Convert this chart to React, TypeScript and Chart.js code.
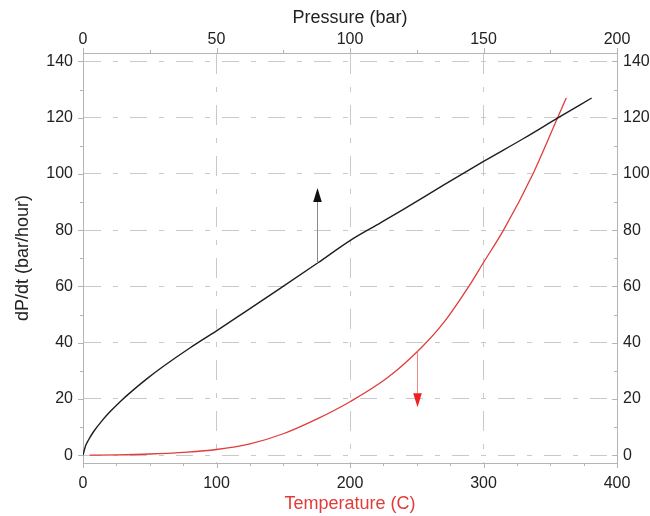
import { useEffect, useRef } from 'react';
import { Chart, registerables } from 'chart.js';

Chart.register(...registerables);

// ---- data ----
const pressure = [0, 1, 2, 4, 7, 10, 14, 18, 24, 30, 40, 50, 60, 74, 88, 100, 111.4, 120, 135, 150.5, 165, 178, 190.5];
const pressureRate = [0, 3.4, 5.3, 8.4, 12.1, 15.3, 19.1, 22.5, 27.2, 31.5, 38.1, 44.2, 50.5, 59.4, 68.4, 76.3, 82.6, 87.4, 96, 104.7, 112.6, 120, 127];

const temperature = [5, 25, 50, 75, 100, 125, 150, 175, 200, 228, 253, 270, 289, 300, 315, 337, 355.5, 362];
const temperatureRate = [0, 0.1, 0.4, 1, 2, 4, 7.6, 12.8, 19, 27.5, 38, 47, 60, 68.5, 80, 100, 120, 127];

const yTicks = [0, 20, 40, 60, 80, 100, 120, 140];
const yMinorTicks = [10, 30, 50, 70, 90, 110, 130];
const pressureTicks = [0, 50, 100, 150, 200];
const pressureMinorTicks = [25, 75, 125, 175];
const temperatureTicks = [0, 100, 200, 300, 400];
const temperatureMinorTicks = [25, 50, 75, 125, 150, 175, 225, 250, 275, 325, 350, 375];

// arrows: [axis value, start rate, tip rate]
const pressureArrow = [87.7, 68.3, 95];
const temperatureArrow = [250, 36.8, 17];

const AXIS = '#b4b4b4';
const GRID = '#c9c9c9';
const TEXT = '#222222';
const RED = '#e03c3c';
const FONT = '"Liberation Sans", Arial, Helvetica, sans-serif';

const tickMarksPlugin = {
  id: 'tickMarks',
  afterDraw(chart: any) {
    const { ctx, chartArea: ca, scales } = chart;
    ctx.save();
    ctx.strokeStyle = AXIS;
    ctx.lineWidth = 1;
    const seg = (x1: number, y1: number, x2: number, y2: number) => {
      ctx.beginPath();
      ctx.moveTo(x1, y1);
      ctx.lineTo(x2, y2);
      ctx.stroke();
    };
    const yTick = (v: number, len: number) => {
      const y = Math.round(scales.y.getPixelForValue(v)) + 0.5;
      seg(ca.left - len, y, ca.left, y);
      seg(ca.right, y, ca.right - len, y);
    };
    yTicks.forEach((v) => yTick(v, 5));
    yMinorTicks.forEach((v) => yTick(v, 3));
    const topTick = (v: number, len: number) => {
      const x = Math.round(scales.x2.getPixelForValue(v)) + 0.5;
      seg(x, ca.top - len, x, ca.top);
    };
    pressureTicks.forEach((v) => topTick(v, 5));
    pressureMinorTicks.forEach((v) => topTick(v, 3));
    const botTick = (v: number, len: number) => {
      const x = Math.round(scales.x.getPixelForValue(v)) + 0.5;
      seg(x, ca.bottom, x, ca.bottom + len);
    };
    temperatureTicks.forEach((v) => botTick(v, 5));
    temperatureMinorTicks.forEach((v) => botTick(v, 3));
    ctx.restore();
  },
};

const arrowPlugin = {
  id: 'arrows',
  afterDatasetsDraw(chart: any) {
    const { ctx, scales } = chart;
    const draw = (xs: any, a: number[], shaft: string, head: string) => {
      const x = Math.round(xs.getPixelForValue(a[0])) + 0.5;
      const y0 = scales.y.getPixelForValue(a[1]);
      const y1 = scales.y.getPixelForValue(a[2]);
      const dir = y1 < y0 ? 1 : -1; // 1 = up
      const headLen = 14;
      const half = 4.3;
      ctx.save();
      ctx.strokeStyle = shaft;
      ctx.lineWidth = 1;
      ctx.beginPath();
      ctx.moveTo(x, y0);
      ctx.lineTo(x, y1 + dir * headLen);
      ctx.stroke();
      ctx.fillStyle = head;
      ctx.beginPath();
      ctx.moveTo(x, y1);
      ctx.lineTo(x - half, y1 + dir * headLen);
      ctx.lineTo(x + half, y1 + dir * headLen);
      ctx.closePath();
      ctx.fill();
      ctx.restore();
    };
    draw(scales.x2, pressureArrow, '#8a8a8a', '#111111');
    draw(scales.x, temperatureArrow, '#f08a8a', '#f02020');
  },
};

const fixedTicks = (vals: number[]) => (s: any) => {
  s.ticks = vals.map((v) => ({ value: v }));
};

export default function App() {
  const ref = useRef<HTMLCanvasElement>(null);
  useEffect(() => {
    if (!ref.current) return;
    Chart.defaults.font.family = FONT;
    const chart = new Chart(ref.current, {
      type: 'scatter',
      data: {
        datasets: [
          {
            label: 'Pressure',
            data: pressure.map((p, i) => ({ x: p, y: pressureRate[i] })),
            xAxisID: 'x2',
            yAxisID: 'y',
            showLine: true,
            borderColor: '#1e1e1e',
            borderWidth: 1.4,
            pointRadius: 0,
            cubicInterpolationMode: 'monotone',
          },
          {
            label: 'Temperature',
            data: temperature.map((t, i) => ({ x: t, y: temperatureRate[i] })),
            xAxisID: 'x',
            yAxisID: 'y',
            showLine: true,
            borderColor: RED,
            borderWidth: 1.3,
            pointRadius: 0,
            cubicInterpolationMode: 'monotone',
          },
        ],
      },
      options: {
        animation: false,
        responsive: false,
        maintainAspectRatio: false,
        layout: { padding: 0 },
        plugins: { legend: { display: false }, tooltip: { enabled: false } },
        scales: {
          x: {
            type: 'linear',
            position: 'bottom',
            min: 0,
            max: 400,
            afterBuildTicks: fixedTicks(temperatureTicks),
            grid: { display: false, drawTicks: false },
            border: { display: true, color: AXIS },
            ticks: { padding: 11, color: TEXT, font: { size: 16 } },
            title: { display: true, text: 'Temperature (C)', color: RED, font: { size: 18 }, padding: { top: 0, bottom: 1 } },
            afterFit: (s: any) => { s.height = 53; },
          },
          x2: {
            type: 'linear',
            position: 'top',
            min: 0,
            max: 200,
            afterBuildTicks: fixedTicks(pressureTicks),
            grid: { display: true, drawTicks: false, color: GRID, lineWidth: 1 },
            border: { display: true, color: AXIS, dash: [20, 13, 5, 13] },
            ticks: { padding: 4, color: TEXT, font: { size: 16 } },
            title: { display: true, text: 'Pressure (bar)', color: TEXT, font: { size: 18 }, padding: { top: 7, bottom: 0 } },
            afterFit: (s: any) => { s.height = 53; },
          },
          y: {
            type: 'linear',
            position: 'left',
            min: -2.8,
            max: 143,
            afterBuildTicks: fixedTicks(yTicks),
            grid: { display: true, drawTicks: false, color: GRID, lineWidth: 1 },
            border: { display: true, color: AXIS, dash: [17, 12, 5, 12] },
            ticks: { padding: 10, color: TEXT, font: { size: 16 } },
            title: { display: true, text: 'dP/dt (bar/hour)', color: TEXT, font: { size: 18 }, padding: { top: 12, bottom: 0 } },
            afterFit: (s: any) => { s.width = 83; },
          },
          y2: {
            type: 'linear',
            position: 'right',
            display: true,
            min: -2.8,
            max: 143,
            afterBuildTicks: fixedTicks(yTicks),
            grid: { display: false, drawTicks: false },
            border: { display: true, color: AXIS },
            ticks: { padding: 6, color: TEXT, font: { size: 16 } },
            afterFit: (s: any) => { s.width = 33; },
          },
        },
      } as any,
      plugins: [tickMarksPlugin, arrowPlugin],
    });
    return () => chart.destroy();
  }, []);
  return (
    <div style={{ position: 'fixed', left: 0, top: 0, width: 650, height: 516, background: '#fff' }}>
      <canvas ref={ref} width={650} height={516} style={{ display: 'block' }} />
    </div>
  );
}
